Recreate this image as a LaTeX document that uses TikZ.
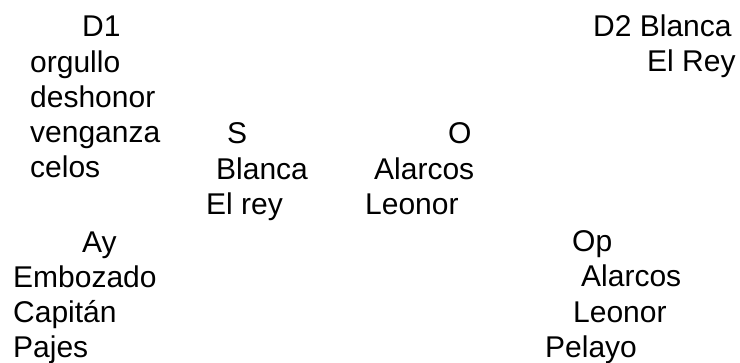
\documentclass[tikz,border=0pt]{standalone}
\usepackage{fontspec}
\setmainfont{Liberation Sans}
\begin{document}
\begin{tikzpicture}[x=1pt,y=-1pt,
  lbl/.style={anchor=base west,inner sep=0pt,font=\fontsize{30}{34.5}\selectfont}]
\useasboundingbox (0,0) rectangle (740,363);
% left column: D1
\node[lbl] (d1)   at (82,37)  {D1};
\node[lbl] (org)  at (30,73)  {orgullo};
\node[lbl] (desh) at (30,108) {deshonor};
\node[lbl] (ven)  at (30,143) {venganza};
\node[lbl] (cel)  at (30,178) {celos};
% right column: D2
\node[lbl] (d2)   at (593,37) {D2 Blanca};
\node[lbl] (rey2) at (647,72) {El Rey};
% centre: S and O
\node[lbl] (s)    at (227,144) {S};
\node[lbl] (bla)  at (216,180) {Blanca};
\node[lbl] (reys) at (206,215) {El rey};
\node[lbl] (o)    at (448,144) {O};
\node[lbl] (alo)  at (374,180) {Alarcos};
\node[lbl] (leo)  at (365,215) {Leonor};
% bottom left: Ay
\node[lbl] (ay)   at (82,253) {Ay};
\node[lbl] (emb)  at (13,288) {Embozado};
\node[lbl] (cap)  at (13,323) {Capitán};
\node[lbl] (paj)  at (13,358) {Pajes};
% bottom right: Op
\node[lbl] (op)   at (572,252) {Op};
\node[lbl] (alp)  at (581,287) {Alarcos};
\node[lbl] (leop) at (573,323) {Leonor};
\node[lbl] (pel)  at (545,358) {Pelayo};
\end{tikzpicture}
\end{document}
